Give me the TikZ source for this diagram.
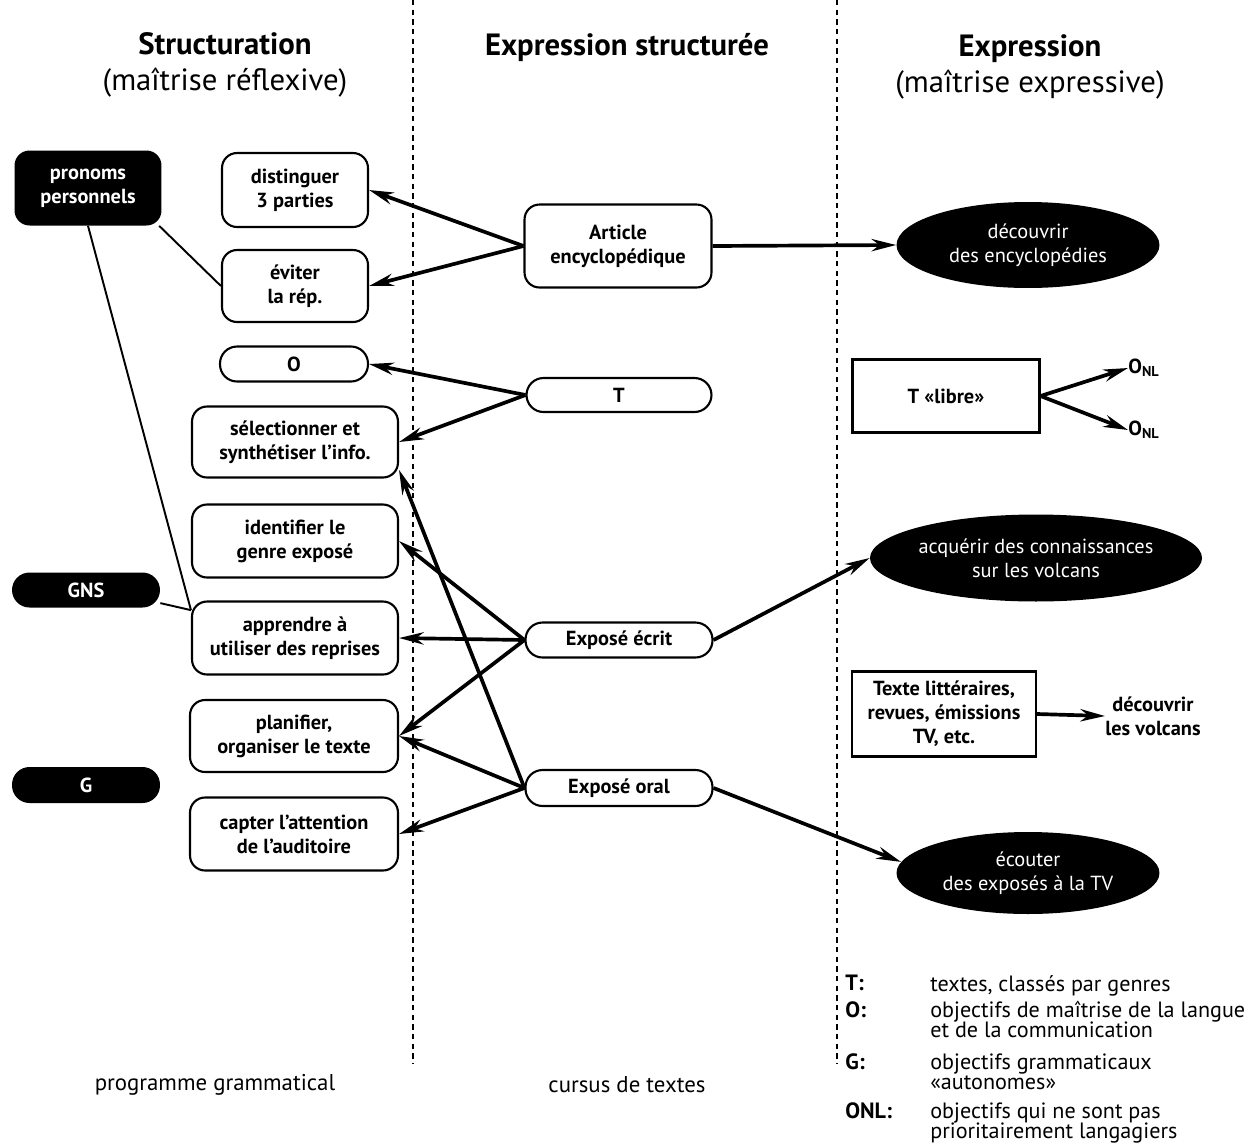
\documentclass[tikz,border=0pt]{standalone}
\usepackage{fontspec}
\setmainfont{PT Sans}
\usetikzlibrary{positioning,arrows.meta,shapes.geometric}

\tikzset{
  boxfont/.style={font=\fontsize{11.6}{13.6}\selectfont\bfseries},
  gram/.style={fill=black, text=white, rounded corners=0.3cm, align=center, inner sep=0pt, boxfont},
  obj/.style={draw, line width=1.2pt, rounded corners=0.3cm, align=center, inner sep=0pt, boxfont},
  genre/.style={obj, rounded corners=0.34cm},
  expr/.style={ellipse, fill=black, text=white, align=center, inner sep=0pt, font=\fontsize{11.6}{13.6}\selectfont},
  libre/.style={draw, line width=1.2pt, align=center, inner sep=0pt, boxfont},
  arr/.style={-{Stealth[length=14pt,width=7pt]}, line width=2.1pt},
  lien/.style={line width=1.1pt},
  sep/.style={dash pattern=on 3pt off 2.5pt, line width=0.7pt},
  titre/.style={align=center, font=\fontsize{17.5}{20.4}\selectfont},
  legende/.style={anchor=north west, align=left, inner sep=0pt, font=\fontsize{12.6}{11.6}\selectfont},
}

\begin{document}
\begin{tikzpicture}[x=0.02cm, y=-0.02cm]
  \useasboundingbox (0,0) rectangle (1259,1144);

  % colonnes
  \draw[sep] (413,0) -- (413,1063);
  \draw[sep] (837,0) -- (837,1063);

  \node[titre] (t1) at (225,65) {\textbf{Structuration}\\(maîtrise réflexive)};
  \node[titre] (t2) at (627,47) {\textbf{Expression structurée}};
  \node[titre] (t3) at (1030,67) {\textbf{Expression}\\(maîtrise expressive)};

  % programme grammatical
  \node[gram, minimum width=2.94cm, minimum height=1.5cm] (pron) at (88,188) {pronoms\\personnels};
  \node[gram, rounded corners=0.35cm, minimum width=2.96cm, minimum height=0.7cm] (gns) at (86,590) {GNS};
  \node[gram, rounded corners=0.35cm, minimum width=2.96cm, minimum height=0.72cm] (g) at (86,785) {G};

  \node[obj, minimum width=2.92cm, minimum height=1.48cm] (dist) at (295,190) {distinguer\\3 parties};
  \node[obj, minimum width=2.92cm, minimum height=1.44cm] (evit) at (295,286) {éviter\\la rép.};
  \node[genre, minimum width=2.96cm, minimum height=0.7cm] (o) at (294,364) {O};
  \node[obj, minimum width=4.12cm, minimum height=1.42cm] (sel) at (295,442) {sélectionner et\\synthétiser l’info.};
  \node[obj, minimum width=4.12cm, minimum height=1.46cm] (iden) at (295,541) {identifier le\\genre exposé};
  \node[obj, minimum width=4.12cm, minimum height=1.46cm] (appr) at (295,638) {apprendre à\\utiliser des reprises};
  \node[obj, minimum width=4.16cm, minimum height=1.44cm] (plan) at (294,736) {planifier,\\organiser le texte};
  \node[obj, minimum width=4.16cm, minimum height=1.46cm] (capt) at (294,834) {capter l’attention\\de l’auditoire};

  % cursus de textes
  \node[obj, minimum width=3.74cm, minimum height=1.66cm] (art) at (618,246) {Article\\encyclopédique};
  \node[genre, minimum width=3.7cm, minimum height=0.68cm] (txt) at (619,395) {T};
  \node[genre, minimum width=3.74cm, minimum height=0.7cm] (ecr) at (619,640) {Exposé écrit};
  \node[genre, minimum width=3.74cm, minimum height=0.72cm] (oral) at (619,788) {Exposé oral};

  % expression
  \node[expr, minimum width=5.26cm, minimum height=1.72cm] (enc) at (1028,245) {découvrir\\des encyclopédies};
  \node[libre, minimum width=3.74cm, minimum height=1.46cm] (tlib) at (946,396) {T «libre»};
  \node[boxfont, anchor=west, inner sep=0pt] (onl1) at (1128,368) {O\textsubscript{NL}};
  \node[boxfont, anchor=west, inner sep=0pt] (onl2) at (1128,430) {O\textsubscript{NL}};
  \node[expr, minimum width=5.56cm, minimum height=1.74cm] (volc) at (1036,558) {acquérir des connaissances\\sur les volcans};
  \node[libre, minimum width=3.68cm, minimum height=1.7cm] (litt) at (944,714) {Texte littéraires,\\revues, émissions\\TV, etc.};
  \node[boxfont, align=center, anchor=west, inner sep=0pt] (decv) at (1105,716) {découvrir\\les volcans};
  \node[expr, minimum width=5.26cm, minimum height=1.64cm] (tv) at (1028,873) {écouter\\des exposés à la TV};

  % liens grammaticaux
  \draw[lien] (pron.-28) -- (evit.west);
  \draw[lien] (pron.south) -- (appr.165);
  \draw[lien] (gns.-10) -- (appr.165);

  % fleches
  \draw[arr] (art.west) -- (dist.east);
  \draw[arr] (art.west) -- (evit.east);
  \draw[arr] (art.east) -- (enc.west);
  \draw[arr] (txt.west) -- (o.east);
  \draw[arr] (txt.west) -- (sel.east);
  \draw[arr] (ecr.west) -- (iden.east);
  \draw[arr] (ecr.west) -- (appr.east);
  \draw[arr] (ecr.west) -- (plan.east);
  \draw[arr] (ecr.east) -- (volc.west);
  \draw[arr] (oral.west) -- (sel.-15);
  \draw[arr] (oral.west) -- (plan.east);
  \draw[arr] (oral.west) -- (capt.east);
  \draw[arr] (oral.east) -- (tv.175);
  \draw[arr] (tlib.east) -- (onl1.west);
  \draw[arr] (tlib.east) -- (onl2.west);
  \draw[arr] (litt.east) -- (decv.west);

  \node[font=\fontsize{13}{15}\selectfont] (pg) at (215,1085) {programme grammatical};
  \node[font=\fontsize{13}{15}\selectfont] (ct) at (627,1085) {cursus de textes};

  % legende
  \node[legende, font=\fontsize{12.6}{11.6}\selectfont\bfseries] (lt) at (845,975) {T:};
  \node[legende] (dt) at (930,975) {textes, classés par genres};
  \node[legende, font=\fontsize{12.6}{11.6}\selectfont\bfseries] (lo) at (845,1001) {O:};
  \node[legende] (do) at (930,1001) {objectifs de maîtrise de la langue\\et de la communication};
  \node[legende, font=\fontsize{12.6}{11.6}\selectfont\bfseries] (lg) at (845,1053) {G:};
  \node[legende] (dg) at (930,1053) {objectifs grammaticaux\\«autonomes»};
  \node[legende, font=\fontsize{12.6}{11.6}\selectfont\bfseries] (ln) at (845,1102) {ONL:};
  \node[legende] (dn) at (930,1102) {objectifs qui ne sont pas\\prioritairement langagiers};
\end{tikzpicture}
\end{document}
